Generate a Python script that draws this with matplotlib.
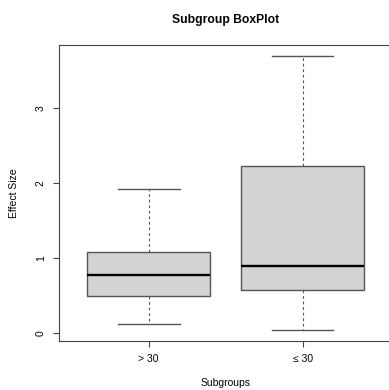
import matplotlib
matplotlib.use("Agg")
import matplotlib.pyplot as plt

plt.rcParams['font.family'] = ['Liberation Sans', 'DejaVu Sans']

# summary stats
groups = ['> 30', '≤ 30']
whis_lo = [0.115, 0.035]
q1 = [0.49, 0.57]
medians = [0.78, 0.893]
q3 = [1.076, 2.227]
whis_hi = [1.924, 3.70]

stats = []
for g, lo, a, m, b, hi in zip(groups, whis_lo, q1, medians, q3, whis_hi):
    stats.append({'label': g, 'whislo': lo, 'q1': a, 'med': m, 'q3': b,
                  'whishi': hi, 'fliers': []})

fig = plt.figure(figsize=(3.89, 3.90), dpi=100)
ax = fig.add_axes([0.1527, 0.1246, 0.855, 0.761])

edge = '#555555'
ax.bxp(stats, positions=[1, 2], widths=0.8, patch_artist=True, showfliers=False,
       boxprops=dict(facecolor='#d3d3d3', edgecolor=edge, linewidth=1.0),
       medianprops=dict(color='black', linewidth=1.7),
       whiskerprops=dict(color=edge, linewidth=0.8, linestyle=(0, (2.5, 2.5))),
       capprops=dict(color=edge, linewidth=1.0), capwidths=0.4)

# R-style ranges (4% padding)
ax.set_xlim(0.42, 2.58)
ax.set_ylim(-0.112, 3.847)

ax.set_yticks([0, 1, 2, 3])
ax.set_yticklabels(['0', '1', '2', '3'], rotation=90, va='center')
ax.set_xticks([1, 2])
ax.set_xticklabels(groups)
ax.tick_params(axis='both', labelsize=7.5, length=4.3, width=0.8, color='#444444')
ax.tick_params(axis='y', pad=5.5)
ax.tick_params(axis='x', pad=5.0)

for s in ax.spines.values():
    s.set_color('#444444')
    s.set_linewidth(0.8)

ax.set_xlabel('Subgroups', fontsize=7.5, va='center')
ax.xaxis.set_label_coords(0.5, -0.140)
ax.set_ylabel('Effect Size', fontsize=7.5, va='center')
ax.yaxis.set_label_coords(-0.136, 0.5)
ax.set_title('Subgroup BoxPlot', fontsize=8.7, fontweight='bold', va='center',
             y=1.0825, pad=0)

fig.savefig('out.png', dpi=100)
